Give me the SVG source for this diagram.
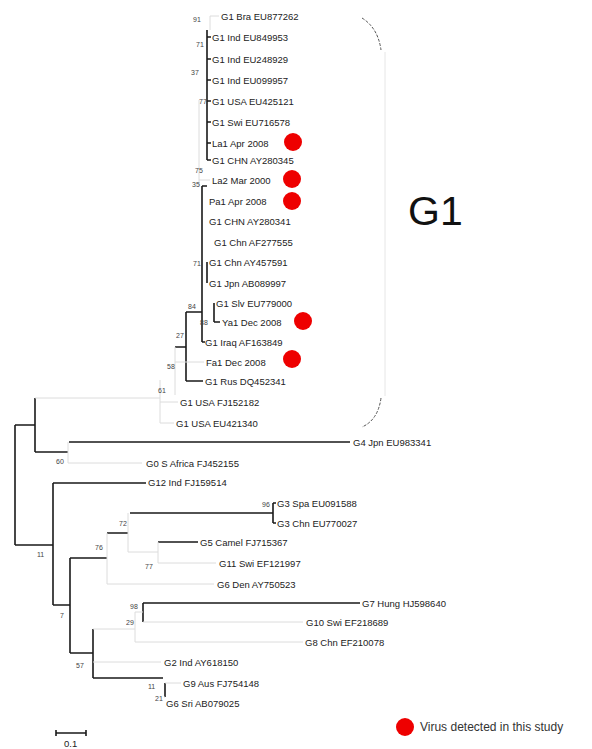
<svg xmlns="http://www.w3.org/2000/svg" width="592" height="749" viewBox="0 0 592 749">
<style>
.lb{font-family:"Liberation Sans",Arial,sans-serif;font-size:9.5px;fill:#222}
.bs{font-family:"Liberation Sans",Arial,sans-serif;font-size:7px;fill:#444}
.b{stroke:#1a1a1a;stroke-width:1.6;fill:none}
.f{stroke:#dcdcdc;stroke-width:1;fill:none}
.dot{fill:#ee0000}
</style>
<rect width="592" height="749" fill="#fff"/>
<g id="connectors">
<!-- root -->
<path class="b" d="M15 425V545M15 425H35M35 398V452M35 452H68M69 442H350M15 545H53M53 483V605M53 483H146M53 605H70M70 558V653M70 558H107M107 533H128M130 513H273M273 503V523M273 503H276M273 523H276M158 542H198M70 653H93M93 629V678M93 678H163M143 603V622M143 603H360M165 683V697"/>
<path class="f" d="M68 442V463M68 463H142M35 398H160M160 380V423M160 402H178M160 423H174M107 533V584M107 584H214M128 513V552M128 552H158M158 542V563M158 563H216M93 629H135M135 612V642M135 612H143M143 622H303M135 642H303M93 662H161M165 683H181M165 697H164"/>
<!-- G1 cluster -->
<path class="b" d="M207 30V160M207 37H211M207 59H211M207 80H211M207 101H211M207 122H211M207 143H211M207 160H211M202 186V342M202 186H207M202 342H205M207 262V283M214 303V322M214 322H220M186 312H202M186 312V381M186 381H203M175 347H186"/>
<path class="f" d="M210 16H219M210 16V30M199 100V186M199 180H210M175 347V395M175 362H204"/>
<!-- G1 bracket -->
<path d="M362 18Q378 28 381 50" stroke="#555" stroke-width="1" fill="none" stroke-dasharray="3 1.5"/>
<path d="M385 52V396" stroke="#e6e6e6" stroke-width="1" fill="none"/>
<path d="M381 398Q378 420 362 427" stroke="#555" stroke-width="1" fill="none" stroke-dasharray="3 1.5"/>
<!-- scale bar -->
<path class="b" d="M56 733H86M56 730V736M86 730V736" stroke-width="1.3"/>
</g>
<g id="bootstraps">
<text class="bs" x="193" y="22">91</text>
<text class="bs" x="196" y="47">71</text>
<text class="bs" x="191" y="75">37</text>
<text class="bs" x="199" y="104">77</text>
<text class="bs" x="195" y="173">75</text>
<text class="bs" x="192" y="187">35</text>
<text class="bs" x="193" y="266">71</text>
<text class="bs" x="188" y="309">84</text>
<text class="bs" x="200" y="325">88</text>
<text class="bs" x="176" y="338">27</text>
<text class="bs" x="167" y="369">58</text>
<text class="bs" x="158" y="393">61</text>
<text class="bs" x="56" y="464">60</text>
<text class="bs" x="37" y="557">11</text>
<text class="bs" x="95" y="550">76</text>
<text class="bs" x="119" y="526">72</text>
<text class="bs" x="145" y="569">77</text>
<text class="bs" x="262" y="507">96</text>
<text class="bs" x="130" y="609">98</text>
<text class="bs" x="126" y="625">29</text>
<text class="bs" x="60" y="618">7</text>
<text class="bs" x="76" y="668">57</text>
<text class="bs" x="148" y="689">11</text>
<text class="bs" x="155" y="701">21</text>
</g>
<g id="n1"><text class="lb" x="221" y="19.5">G1 Bra EU877262</text></g>
<g id="n2"><text class="lb" x="212" y="40.5">G1 Ind EU849953</text></g>
<g id="n3"><text class="lb" x="212" y="62.5">G1 Ind EU248929</text></g>
<g id="n4"><text class="lb" x="212" y="83.5">G1 Ind EU099957</text></g>
<g id="n5"><text class="lb" x="212" y="104.5">G1 USA EU425121</text></g>
<g id="n6"><text class="lb" x="212" y="125.5">G1 Swi EU716578</text></g>
<g id="n7"><text class="lb" x="212" y="146.5">La1 Apr 2008</text><circle class="dot" cx="293" cy="142" r="9"/></g>
<g id="n8"><text class="lb" x="212" y="163.5">G1 CHN AY280345</text></g>
<g id="n9"><text class="lb" x="212" y="183.5">La2 Mar 2000</text><circle class="dot" cx="292" cy="179" r="9"/></g>
<g id="n10"><text class="lb" x="209" y="204.5">Pa1 Apr 2008</text><circle class="dot" cx="292" cy="201" r="9"/></g>
<g id="n11"><text class="lb" x="209" y="224.5">G1 CHN AY280341</text></g>
<g id="n12"><text class="lb" x="214" y="245.5">G1 Chn AF277555</text></g>
<g id="n13"><text class="lb" x="209" y="265.5">G1 Chn AY457591</text></g>
<g id="n14"><text class="lb" x="209" y="286.5">G1 Jpn AB089997</text></g>
<g id="n15"><text class="lb" x="216" y="306.5">G1 Slv EU779000</text></g>
<g id="n16"><text class="lb" x="222" y="325.5">Ya1 Dec 2008</text><circle class="dot" cx="303" cy="321" r="9"/></g>
<g id="n17"><text class="lb" x="205" y="345.5">G1 Iraq AF163849</text></g>
<g id="n18"><text class="lb" x="206" y="365.5">Fa1 Dec 2008</text><circle class="dot" cx="292" cy="359" r="9"/></g>
<g id="n19"><text class="lb" x="205" y="384.5">G1 Rus DQ452341</text></g>
<g id="n20"><text class="lb" x="180" y="405.5">G1 USA FJ152182</text></g>
<g id="n21"><text class="lb" x="176" y="426.5">G1 USA EU421340</text></g>
<g id="n22"><text class="lb" x="353" y="445.5">G4 Jpn EU983341</text></g>
<g id="n23"><text class="lb" x="146" y="466.5">G0 S Africa FJ452155</text></g>
<g id="n24"><text class="lb" x="148" y="486">G12 Ind FJ159514</text></g>
<g id="n25"><text class="lb" x="277" y="506.5">G3 Spa EU091588</text></g>
<g id="n26"><text class="lb" x="277" y="526.5">G3 Chn EU770027</text></g>
<g id="n27"><text class="lb" x="200" y="545.5">G5 Camel FJ715367</text></g>
<g id="n28"><text class="lb" x="219" y="566.5">G11 Swi EF121997</text></g>
<g id="n29"><text class="lb" x="217" y="587.5">G6 Den AY750523</text></g>
<g id="n30"><text class="lb" x="362" y="606.5">G7 Hung HJ598640</text></g>
<g id="n31"><text class="lb" x="306" y="626">G10 Swi EF218689</text></g>
<g id="n32"><text class="lb" x="305" y="645.5">G8 Chn EF210078</text></g>
<g id="n33"><text class="lb" x="164" y="665.5">G2 Ind AY618150</text></g>
<g id="n34"><text class="lb" x="183" y="686.5">G9 Aus FJ754148</text></g>
<g id="n35"><text class="lb" x="166" y="706.5">G6 Sri AB079025</text></g>
<g id="clade-label"><text x="408" y="225" font-family="Liberation Sans, Arial, sans-serif" font-size="41" fill="#111">G1</text></g>
<g id="scale"><text class="lb" x="64" y="747" font-size="9">0.1</text></g>
<g id="legend"><circle class="dot" cx="405" cy="727" r="9"/><text x="420" y="731" font-family="Liberation Sans, Arial, sans-serif" font-size="12" fill="#333">Virus detected in this study</text></g>
</svg>
